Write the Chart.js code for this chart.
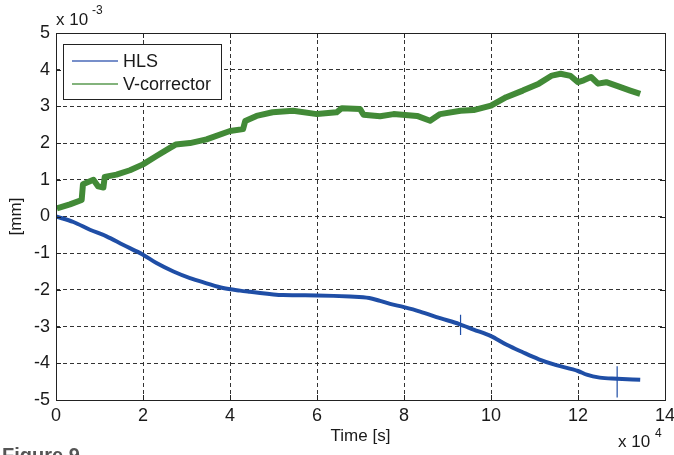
<!DOCTYPE html>
<html>
<head>
<meta charset="utf-8">
<script src="https://cdn.jsdelivr.net/npm/chart.js@4.4.1/dist/chart.umd.min.js"></script>
<style>
  html, body { margin:0; padding:0; background:#fff; overflow:hidden; }
  #wrap { position:relative; width:674px; height:455px; }
  #fig { position:absolute; left:2px; top:444px; font:bold 20px "Liberation Sans", Arial, sans-serif; color:#555; white-space:nowrap; }
</style>
</head>
<body>
<div id="wrap">
<canvas id="c" width="674" height="455"></canvas>
<div id="fig">Figure 9</div>
</div>
<script>
// Data (x in 1e4 s, y in 1e-3 mm)
const hlsX = [0,0.4,0.78,1.16,1.54,2,2.31,2.7,3.08,3.46,3.84,4.23,4.46,5.22,6,6.76,7.2,7.45,7.68,8,8.37,8.83,9.27,9.6,10,10.35,10.73,11.1,11.5,12,12.2,12.5,12.9,13.43];
const hlsY = [0,-0.15,-0.36,-0.54,-0.77,-1.04,-1.27,-1.5,-1.68,-1.82,-1.95,-2.02,-2.05,-2.14,-2.15,-2.18,-2.22,-2.3,-2.38,-2.47,-2.59,-2.77,-2.93,-3.08,-3.26,-3.49,-3.7,-3.89,-4.05,-4.21,-4.31,-4.39,-4.42,-4.45];
const vcX = [0.02,0.32,0.59,0.62,0.86,0.97,1.09,1.12,1.39,1.70,2.0,2.31,2.62,2.75,3.08,3.46,4.0,4.3,4.35,4.61,4.98,5.45,6.0,6.45,6.57,6.99,7.07,7.45,7.76,8.3,8.6,8.83,9.3,9.6,10.0,10.35,10.73,11.1,11.4,11.6,11.83,12.0,12.13,12.3,12.46,12.65,12.96,13.2,13.43];
const vcY = [0.22,0.33,0.45,0.88,1.0,0.82,0.79,1.08,1.14,1.26,1.42,1.65,1.87,1.96,2.0,2.1,2.33,2.38,2.6,2.74,2.84,2.88,2.79,2.84,2.95,2.93,2.77,2.73,2.79,2.74,2.61,2.79,2.88,2.9,3.02,3.25,3.43,3.62,3.84,3.89,3.83,3.66,3.71,3.8,3.62,3.66,3.53,3.43,3.34];
const spikeX = [9.3,9.3,9.3,12.9,12.9];
const spikeY = [-2.68,-3.23,null,-4.08,-4.93];
const xTicks = [0,2,4,6,8,10,12,14];
const yTicks = [-5,-4,-3,-2,-1,0,1,2,3,4,5];
const seriesNames = ['HLS','V-corrector'];
const colors = ['#1f4ea6','#428a37'];
const legendColors = ['#4a6ab8','#5a9a50'];

const FONT = '"Liberation Sans", Arial, sans-serif';
const zip = (xs, ys) => xs.map((x,i)=>({x, y: ys[i]}));

const frame = {
  id:'frame',
  afterDatasetsDraw(chart){
    const {ctx, chartArea:a, scales} = chart;
    ctx.save();
    ctx.strokeStyle = '#222'; ctx.lineWidth = 1; ctx.setLineDash([]);
    ctx.beginPath();
    const L = 5;
    xTicks.forEach(v=>{
      const px = Math.round(scales.x.getPixelForValue(v))+0.5;
      ctx.moveTo(px, a.bottom); ctx.lineTo(px, a.bottom-L);
      ctx.moveTo(px, a.top); ctx.lineTo(px, a.top+L);
    });
    yTicks.forEach(v=>{
      const py = Math.round(scales.y.getPixelForValue(v))+0.5;
      ctx.moveTo(a.left, py); ctx.lineTo(a.left+L, py);
      ctx.moveTo(a.right, py); ctx.lineTo(a.right-L, py);
    });
    ctx.stroke();
    ctx.strokeRect(Math.round(a.left)+0.5, Math.round(a.top)+0.5, Math.round(a.right-a.left), Math.round(a.bottom-a.top));
    // exponent labels
    ctx.fillStyle = '#1a1a1a';
    ctx.textBaseline = 'alphabetic'; ctx.textAlign = 'left';
    ctx.font = '17px ' + FONT;
    ctx.fillText('x 10', 56, 25);
    ctx.font = '12px ' + FONT;
    ctx.fillText('-3', 92, 14);
    ctx.font = '17px ' + FONT;
    ctx.fillText('x 10', 618, 447);
    ctx.font = '12px ' + FONT;
    ctx.fillText('4', 655, 437);
    // legend
    const bx = 63, by = 44, bw = 158, bh = 55;
    ctx.fillStyle = '#fff';
    ctx.fillRect(bx, by, bw, bh);
    ctx.strokeStyle = '#222';
    ctx.strokeRect(bx+0.5, by+0.5, bw, bh);
    const rows = [61, 84];
    ctx.font = '18px ' + FONT;
    ctx.textBaseline = 'middle';
    seriesNames.forEach((n,i)=>{
      ctx.strokeStyle = legendColors[i]; ctx.lineWidth = 1.5;
      ctx.beginPath(); ctx.moveTo(72, rows[i]); ctx.lineTo(118, rows[i]); ctx.stroke();
      ctx.fillStyle = '#1a1a1a';
      ctx.fillText(n, 123, rows[i]+1);
    });
    ctx.restore();
  }
};

new Chart(document.getElementById('c'), {
  type:'line',
  data:{
    datasets:[
      {label:seriesNames[0], data: zip(hlsX,hlsY), borderColor:colors[0], borderWidth:4, pointRadius:0, tension:0.25, cubicInterpolationMode:'monotone'},
      {label:seriesNames[1], data: zip(vcX,vcY), borderColor:colors[1], borderWidth:6, borderJoinStyle:'round', pointRadius:0, tension:0},
      {label:'spikes', data: zip(spikeX,spikeY), borderColor:colors[0], borderWidth:1.2, pointRadius:0, spanGaps:false}
    ]
  },
  options:{
    responsive:false, animation:false, events:[],
    layout:{padding:{left:6, right:9, top:33, bottom:8}},
    plugins:{legend:{display:false}, tooltip:{enabled:false}},
    scales:{
      x:{
        type:'linear', min:0, max:14,
        afterBuildTicks(s){ s.ticks = xTicks.map(v=>({value:v})); },
        afterFit(s){ s.height = 47; s.paddingRight = 0; },
        grid:{color:'#333', drawTicks:false, tickLength:0},
        border:{display:false, dash:[4,3]},
        ticks:{padding:5, color:'#1a1a1a', font:{family:FONT, size:18}, maxRotation:0, autoSkip:false},
        title:{display:true, text:'Time [s]', color:'#1a1a1a', font:{family:FONT, size:17}, padding:0}
      },
      y:{
        type:'linear', min:-5, max:5,
        afterBuildTicks(s){ s.ticks = yTicks.map(v=>({value:v})); },
        afterFit(s){ s.width = 50; },
        grid:{color:'#333', drawTicks:false, tickLength:0},
        border:{display:false, dash:[4,3]},
        ticks:{padding:6, color:'#1a1a1a', font:{family:FONT, size:18}, autoSkip:false},
        title:{display:true, text:'[mm]', color:'#1a1a1a', font:{family:FONT, size:17}, padding:0}
      }
    }
  },
  plugins:[frame]
});
</script>
</body>
</html>
